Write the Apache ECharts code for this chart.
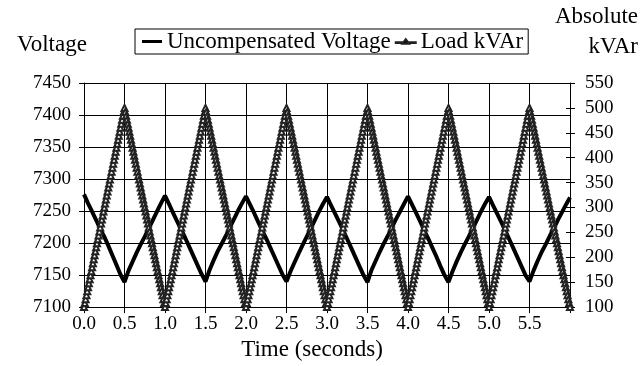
<!DOCTYPE html>
<html>
<head>
<meta charset="utf-8">
<script src="https://cdn.jsdelivr.net/npm/echarts@6/dist/echarts.min.js"></script>
<style>
  html, body { margin: 0; padding: 0; background: #fff; }
  #chart { width: 641px; height: 366px; }
</style>
</head>
<body>
<div id="chart"></div>
<script>
var FONT = '"Liberation Serif", "Times New Roman", serif';

// x axis: time in seconds
var timeTicks = ['0.0', '0.5', '1.0', '1.5', '2.0', '2.5', '3.0', '3.5', '4.0', '4.5', '5.0', '5.5'];

// uncompensated voltage, one sample every 0.05 s from 0.00 to 6.00
var voltageStep = 0.05;
var voltage = [
  7276, 7262, 7249, 7236, 7222, 7210, 7196, 7181, 7166, 7151, 7139, 7157, 7171, 7185, 7198, 7210, 7223, 7236, 7249, 7262,
  7274, 7261, 7247, 7234, 7221, 7208, 7194, 7180, 7166, 7152, 7140, 7158, 7173, 7187, 7199, 7211, 7224, 7237, 7250, 7262,
  7273, 7260, 7247, 7233, 7220, 7207, 7193, 7179, 7165, 7151, 7140, 7156, 7170, 7184, 7197, 7210, 7223, 7236, 7249, 7261,
  7272, 7259, 7246, 7233, 7220, 7206, 7192, 7178, 7164, 7150, 7139, 7158, 7172, 7186, 7199, 7211, 7224, 7237, 7249, 7261,
  7273, 7260, 7247, 7234, 7220, 7207, 7193, 7179, 7164, 7150, 7139, 7156, 7171, 7185, 7198, 7210, 7223, 7236, 7249, 7261,
  7272, 7259, 7246, 7233, 7220, 7206, 7192, 7178, 7164, 7150, 7140, 7157, 7172, 7186, 7198, 7211, 7223, 7236, 7248, 7260,
  7271
];

// load kVAr (absolute), one sample every 0.01 s from 0.00 to 6.00
var kvarStep = 0.01;
var loadKvar = [
  100,108,116,124,132,140,148,156,164,172,180,188,196,204,212,220,228,236,244,252,260,268,276,284,292,300,308,316,324,332,340,348,356,364,372,380,388,396,404,412,420,428,436,444,452,460,468,476,484,492,500,
  492,484,476,468,460,452,444,436,428,420,412,404,396,388,380,372,364,356,348,340,332,324,316,308,300,292,284,276,268,260,252,244,236,228,220,212,204,196,188,180,172,164,156,148,140,132,124,116,108,
  100,108,116,124,132,140,148,156,164,172,180,188,196,204,212,220,228,236,244,252,260,268,276,284,292,300,308,316,324,332,340,348,356,364,372,380,388,396,404,412,420,428,436,444,452,460,468,476,484,492,500,
  492,484,476,468,460,452,444,436,428,420,412,404,396,388,380,372,364,356,348,340,332,324,316,308,300,292,284,276,268,260,252,244,236,228,220,212,204,196,188,180,172,164,156,148,140,132,124,116,108,
  100,108,116,124,132,140,148,156,164,172,180,188,196,204,212,220,228,236,244,252,260,268,276,284,292,300,308,316,324,332,340,348,356,364,372,380,388,396,404,412,420,428,436,444,452,460,468,476,484,492,500,
  492,484,476,468,460,452,444,436,428,420,412,404,396,388,380,372,364,356,348,340,332,324,316,308,300,292,284,276,268,260,252,244,236,228,220,212,204,196,188,180,172,164,156,148,140,132,124,116,108,
  100,108,116,124,132,140,148,156,164,172,180,188,196,204,212,220,228,236,244,252,260,268,276,284,292,300,308,316,324,332,340,348,356,364,372,380,388,396,404,412,420,428,436,444,452,460,468,476,484,492,500,
  492,484,476,468,460,452,444,436,428,420,412,404,396,388,380,372,364,356,348,340,332,324,316,308,300,292,284,276,268,260,252,244,236,228,220,212,204,196,188,180,172,164,156,148,140,132,124,116,108,
  100,108,116,124,132,140,148,156,164,172,180,188,196,204,212,220,228,236,244,252,260,268,276,284,292,300,308,316,324,332,340,348,356,364,372,380,388,396,404,412,420,428,436,444,452,460,468,476,484,492,500,
  492,484,476,468,460,452,444,436,428,420,412,404,396,388,380,372,364,356,348,340,332,324,316,308,300,292,284,276,268,260,252,244,236,228,220,212,204,196,188,180,172,164,156,148,140,132,124,116,108,
  100,108,116,124,132,140,148,156,164,172,180,188,196,204,212,220,228,236,244,252,260,268,276,284,292,300,308,316,324,332,340,348,356,364,372,380,388,396,404,412,420,428,436,444,452,460,468,476,484,492,500,
  492,484,476,468,460,452,444,436,428,420,412,404,396,388,380,372,364,356,348,340,332,324,316,308,300,292,284,276,268,260,252,244,236,228,220,212,204,196,188,180,172,164,156,148,140,132,124,116,108,
  100
];

var myChart = echarts.init(document.getElementById('chart'));

// pair each value with its sample time
function withTime(values, step) {
  var out = [];
  for (var i = 0; i < values.length; i++) {
    out.push([+(i * step).toFixed(2), values[i]]);
  }
  return out;
}

var labelStyle = { color: '#000', fontFamily: FONT, fontSize: 19 };
function plain(v) { return String(v); }

var option = {
  animation: false,
  backgroundColor: '#fff',
  grid: { left: 84, right: 71, top: 83, bottom: 54 },
  legend: {
    left: 135,
    top: 29,
    padding: [1, 5, 1, 7],
    itemGap: 4,
    itemWidth: 20,
    itemHeight: 10,
    borderColor: '#000',
    borderWidth: 1,
    textStyle: { color: '#000', fontFamily: FONT, fontSize: 23 },
    data: [
      // thick line (two zero-area strokes only hold the icon box open)
      { name: 'Uncompensated Voltage', icon: 'path://M0,0L0.01,0L0,0Z M0,10L0.01,10L0,10Z M0,3.4L20,3.4L20,6.6L0,6.6Z', itemStyle: { color: '#000' } },
      // thin line with a small triangle
      { name: 'Load kVAr', icon: 'path://M0,4.6L7.6,4.6L10,1.5L12.4,4.6L20,4.6L20,5.4L12.9,5.4L13.4,6.1L6.6,6.1L7.1,5.4L0,5.4Z', itemStyle: { color: '#000' } }
    ]
  },
  graphic: [
    { type: 'text', left: 17, top: 33, style: { text: 'Voltage', fill: '#000', font: '23px ' + FONT } },
    { type: 'text', right: 3, top: 5, style: { text: 'Absolute', fill: '#000', font: '23px ' + FONT } },
    { type: 'text', right: 3, top: 35, style: { text: 'kVAr', fill: '#000', font: '23px ' + FONT } }
  ],
  xAxis: {
    type: 'value',
    min: 0,
    max: 6,
    interval: 0.5,
    name: 'Time (seconds)',
    nameLocation: 'middle',
    nameGap: 26,
    nameTextStyle: { color: '#000', fontFamily: FONT, fontSize: 23, padding: [0, 30, 0, 0] },
    axisLine: { lineStyle: { color: '#000', width: 1 } },
    axisTick: { length: 6, lineStyle: { color: '#000' } },
    axisLabel: Object.assign({ margin: 7, formatter: function (v) {
      var i = Math.round(v / 0.5);
      return timeTicks[i] || '';
    } }, labelStyle),
    splitLine: { show: true, lineStyle: { color: '#000', width: 1 } }
  },
  yAxis: [
    {
      type: 'value',
      min: 7100,
      max: 7450,
      interval: 50,
      position: 'left',
      axisLine: { show: true, lineStyle: { color: '#000', width: 1 } },
      axisTick: { show: true, length: 5, lineStyle: { color: '#000' } },
      axisLabel: Object.assign({ margin: 13, formatter: plain }, labelStyle),
      splitLine: { show: true, lineStyle: { color: '#000', width: 1 } }
    },
    {
      type: 'value',
      min: 100,
      max: 550,
      interval: 50,
      position: 'right',
      axisLine: { show: true, lineStyle: { color: '#000', width: 1 } },
      axisTick: { show: true, length: 5, lineStyle: { color: '#000' } },
      axisLabel: Object.assign({ margin: 15, formatter: plain }, labelStyle),
      splitLine: { show: false }
    },
    {
      // inner half of the crossing ticks on the right axis
      type: 'value',
      min: 100,
      max: 550,
      interval: 50,
      position: 'right',
      axisLine: { show: false },
      axisTick: { show: true, inside: true, length: 4, lineStyle: { color: '#000' } },
      axisLabel: { show: false },
      splitLine: { show: false }
    }
  ],
  series: [
    {
      name: 'Uncompensated Voltage',
      type: 'line',
      yAxisIndex: 0,
      symbol: 'none',
      lineStyle: { color: '#000', width: 4 },
      itemStyle: { color: '#000' },
      data: withTime(voltage, voltageStep),
      z: 2
    },
    {
      name: 'Load kVAr',
      type: 'line',
      yAxisIndex: 1,
      symbol: 'emptyTriangle',
      symbolSize: 6,
      showAllSymbol: true,
      lineStyle: { color: '#222', width: 0.8 },
      itemStyle: { color: '#222', borderColor: '#222', borderWidth: 0.7 },
      data: withTime(loadKvar, kvarStep),
      z: 3
    }
  ]
};

myChart.setOption(option);
</script>
</body>
</html>
